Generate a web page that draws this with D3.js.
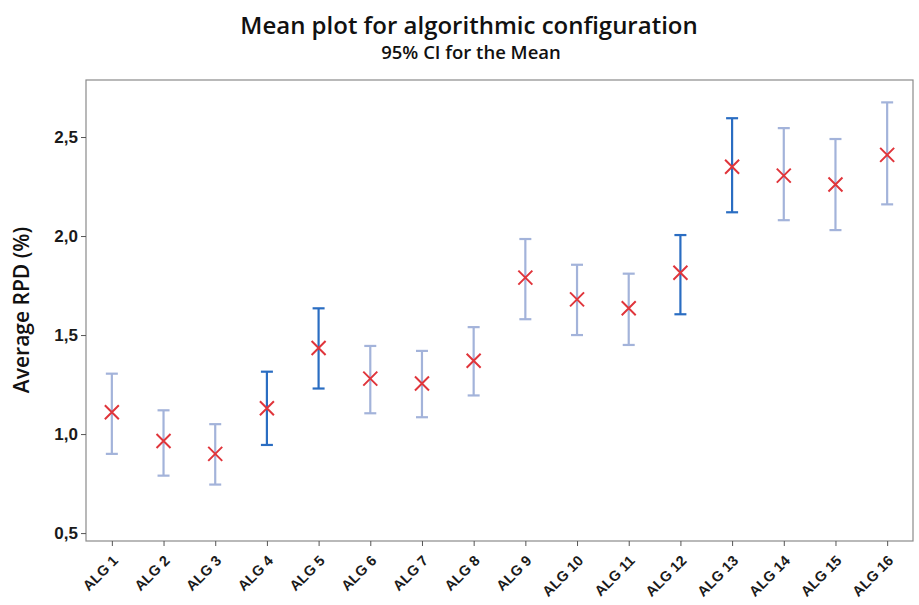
<!DOCTYPE html>
<html>
<head>
<meta charset="utf-8">
<script src="https://cdn.jsdelivr.net/npm/d3@7"></script>
<style>
  body { margin: 0; background: #fff; }
  svg { font-family: 'Open Sans', 'Noto Sans', sans-serif; }
</style>
</head>
<body>
<svg id="chart" width="919" height="605"></svg>
<script>
const algs = ['ALG 1', 'ALG 2', 'ALG 3', 'ALG 4', 'ALG 5', 'ALG 6', 'ALG 7', 'ALG 8',
  'ALG 9', 'ALG 10', 'ALG 11', 'ALG 12', 'ALG 13', 'ALG 14', 'ALG 15', 'ALG 16']
const means = [1.11, 0.965, 0.90, 1.13, 1.435, 1.28, 1.255, 1.37, 1.79, 1.68, 1.635, 1.815, 2.35, 2.305, 2.26, 2.41]
const lowerCI = [0.90, 0.79, 0.745, 0.945, 1.23, 1.105, 1.085, 1.195, 1.58, 1.50, 1.45, 1.605, 2.12, 2.08, 2.03, 2.16]
const upperCI = [1.305, 1.12, 1.05, 1.315, 1.635, 1.445, 1.42, 1.54, 1.985, 1.855, 1.81, 2.005, 2.595, 2.545, 2.49, 2.675]
const yTicks = [0.5, 1.0, 1.5, 2.0, 2.5]

// bars drawn in the darker blue
const darkBars = ['ALG 4', 'ALG 5', 'ALG 12', 'ALG 13']

const svg = d3.select('#chart')
const plotLeft = 86, plotRight = 913, plotTop = 80, plotBottom = 541

const x = d3.scalePoint().domain(algs).range([plotLeft, plotRight]).padding(0.5)
const y = d3.scaleLinear().domain([0.46, 2.788]).range([plotBottom, plotTop])
const fmt = d => d3.format('.1f')(d).replace('.', ',')

// titles
svg.append('text')
  .attr('x', 469).attr('y', 34)
  .attr('text-anchor', 'middle')
  .style('font-size', '24px').style('font-weight', '600')
  .style('fill', '#111')
  .text('Mean plot for algorithmic configuration')
svg.append('text')
  .attr('x', 471).attr('y', 59)
  .attr('text-anchor', 'middle')
  .style('font-size', '18.5px').style('font-weight', '600')
  .style('fill', '#111')
  .text('95% CI for the Mean')

// frame
svg.append('rect')
  .attr('x', plotLeft).attr('y', plotTop)
  .attr('width', plotRight - plotLeft).attr('height', plotBottom - plotTop)
  .attr('fill', 'none').attr('stroke', '#8a8a8a').attr('stroke-width', 1.2)

// axes
const yAxis = svg.append('g')
  .attr('transform', `translate(${plotLeft},0)`)
  .call(d3.axisLeft(y).tickValues(yTicks).tickFormat(fmt).tickSize(5).tickPadding(3))
yAxis.select('.domain').remove()
yAxis.selectAll('line').attr('stroke', '#555')
yAxis.selectAll('text').style('font-size', '17px').style('font-weight', '600').style('fill', '#1a1a1a')

const xAxis = svg.append('g')
  .attr('transform', `translate(0,${plotBottom})`)
  .call(d3.axisBottom(x).tickSize(5).tickPadding(6))
xAxis.select('.domain').remove()
xAxis.selectAll('line').attr('stroke', '#555')
xAxis.selectAll('text')
  .style('font-size', '14.5px').style('font-weight', '600').style('fill', '#1a1a1a')
  .attr('text-anchor', 'end')
  .attr('x', 0).attr('y', 0).attr('dy', '0.35em')
  .attr('transform', 'translate(3,17) rotate(-45)')

svg.append('text')
  .attr('transform', `translate(29,${310}) rotate(-90)`)
  .attr('text-anchor', 'middle')
  .style('font-size', '21px').style('font-weight', '600')
  .style('fill', '#111')
  .text('Average RPD (%)')

// intervals
const rows = algs.map((a, i) => ({ alg: a, mean: means[i], lo: lowerCI[i], hi: upperCI[i] }))
const colorOf = d => darkBars.includes(d.alg) ? '#2a6dc2' : '#a3b3da'

const g = svg.append('g').selectAll('g')
  .data(rows)
  .join('g')
  .attr('stroke', colorOf)
  .attr('stroke-width', 2.2)

g.append('line')
  .attr('x1', d => x(d.alg)).attr('x2', d => x(d.alg))
  .attr('y1', d => y(d.lo)).attr('y2', d => y(d.hi))
g.append('line')
  .attr('x1', d => x(d.alg) - 6).attr('x2', d => x(d.alg) + 6)
  .attr('y1', d => y(d.hi)).attr('y2', d => y(d.hi))
g.append('line')
  .attr('x1', d => x(d.alg) - 6).attr('x2', d => x(d.alg) + 6)
  .attr('y1', d => y(d.lo)).attr('y2', d => y(d.lo))

// mean markers
svg.append('g').selectAll('path')
  .data(rows)
  .join('path')
  .attr('d', d => {
    const cx = x(d.alg), cy = y(d.mean), s = 7
    return `M${cx - s},${cy - s}L${cx + s},${cy + s}M${cx - s},${cy + s}L${cx + s},${cy - s}`
  })
  .attr('stroke', '#e0353b')
  .attr('stroke-width', 2)
  .attr('fill', 'none')
</script>
</body>
</html>
